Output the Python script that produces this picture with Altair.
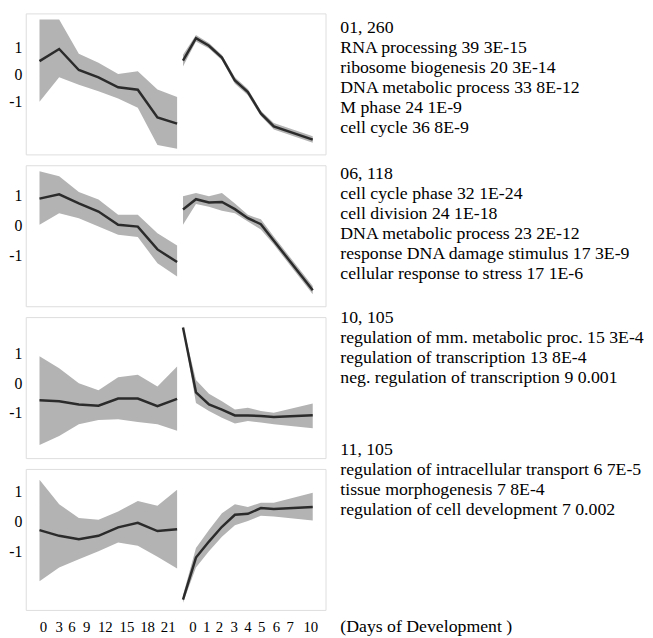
import altair as alt
import pandas as pd

# ---- data ----
left_days = [0, 3, 6, 9, 12, 15, 18, 21]
right_days = [0, 1, 2, 3, 4, 5, 6, 7, 10]

p1_left_mean = [0.50, 0.95, 0.17, -0.10, -0.47, -0.56, -1.59, -1.82]
p1_left_hi = [2.04, 2.04, 0.77, 0.44, 0.02, 0.12, -0.55, -0.83]
p1_left_lo = [-1.01, -0.10, -0.38, -0.62, -0.89, -1.23, -2.61, -2.75]
p1_right_mean = [0.52, 1.35, 1.07, 0.63, -0.22, -0.65, -1.44, -1.92, -2.41]
p1_right_hi = [0.74, 1.47, 1.17, 0.73, -0.10, -0.53, -1.34, -1.80, -2.29]
p1_right_lo = [0.30, 1.23, 0.97, 0.53, -0.34, -0.77, -1.54, -2.04, -2.53]

p2_left_mean = [0.91, 1.05, 0.75, 0.48, 0.04, -0.02, -0.78, -1.20]
p2_left_hi = [1.82, 1.65, 1.13, 0.88, 0.37, 0.37, -0.24, -0.65]
p2_left_lo = [0.04, 0.42, 0.26, -0.02, -0.29, -0.37, -1.24, -1.68]
p2_right_mean = [0.55, 0.89, 0.78, 0.80, 0.56, 0.26, 0.06, -0.49, -2.14]
p2_right_hi = [0.99, 1.10, 0.99, 1.10, 0.75, 0.37, 0.22, -0.35, -2.00]
p2_right_lo = [0.04, 0.73, 0.64, 0.51, 0.42, 0.15, -0.12, -0.62, -2.27]

p3_left_mean = [-0.58, -0.61, -0.72, -0.76, -0.52, -0.52, -0.78, -0.53]
p3_left_hi = [0.91, 0.50, 0.00, -0.24, 0.20, 0.28, -0.11, 0.56]
p3_left_lo = [-2.09, -1.78, -1.39, -1.24, -1.22, -1.31, -1.39, -1.61]
p3_right_mean = [1.88, -0.31, -0.72, -0.89, -1.09, -1.09, -1.11, -1.14, -1.08]
p3_right_hi = [1.92, 0.11, -0.36, -0.61, -0.89, -0.83, -0.94, -1.00, -0.69]
p3_right_lo = [1.84, -0.67, -0.94, -1.17, -1.36, -1.28, -1.33, -1.39, -1.52]

p4_left_mean = [-0.29, -0.48, -0.59, -0.48, -0.20, -0.05, -0.32, -0.26]
p4_left_hi = [1.38, 0.57, 0.11, 0.05, 0.33, 0.68, 0.52, 1.05]
p4_left_lo = [-1.99, -1.53, -1.26, -0.99, -0.70, -0.81, -1.17, -1.56]
p4_right_mean = [-2.60, -1.20, -0.67, -0.18, 0.22, 0.25, 0.44, 0.41, 0.48]
p4_right_hi = [-2.45, -0.88, -0.29, 0.27, 0.57, 0.48, 0.62, 0.62, 0.95]
p4_right_lo = [-2.70, -1.53, -0.99, -0.51, -0.13, 0.01, 0.19, 0.16, 0.03]

y_domains = [[-2.96, 2.27], [-2.67, 2.02], [-2.53, 2.23], [-2.94, 1.74]]
y_tick_values = [-1, 0, 1]

x_tick_labels = ["0", "3", "6", "9", "12", "15", "18", "21",
                 "0", "1", "2", "3", "4", "5", "6", "7", "10"]
x_tick_pos = [0.2, 1.0, 1.65, 2.4, 3.35, 4.45, 5.5, 6.55,
              7.8, 8.5, 9.15, 9.9, 10.6, 11.3, 12.05, 12.75, 13.8]

p1_text = ["01, 260", "RNA processing 39 3E-15", "ribosome biogenesis 20 3E-14",
           "DNA metabolic process 33 8E-12", "M phase 24 1E-9", "cell cycle 36 8E-9"]
p2_text = ["06, 118", "cell cycle phase 32 1E-24", "cell division 24 1E-18",
           "DNA metabolic process 23 2E-12", "response DNA damage stimulus 17 3E-9",
           "cellular response to stress 17 1E-6"]
p3_text = ["10, 105", "regulation of mm. metabolic proc. 15 3E-4",
           "regulation of transcription 13 8E-4", "neg. regulation of transcription 9 0.001"]
p4_text = ["11, 105", "regulation of intracellular transport 6 7E-5",
           "tissue morphogenesis 7 8E-4", "regulation of cell development 7 0.002"]
footer_text = "(Days of Development )"

panels = [
    (p1_left_mean, p1_left_hi, p1_left_lo, p1_right_mean, p1_right_hi, p1_right_lo),
    (p2_left_mean, p2_left_hi, p2_left_lo, p2_right_mean, p2_right_hi, p2_right_lo),
    (p3_left_mean, p3_left_hi, p3_left_lo, p3_right_mean, p3_right_hi, p3_right_lo),
    (p4_left_mean, p4_left_hi, p4_left_lo, p4_right_mean, p4_right_hi, p4_right_lo),
]
panel_texts = [p1_text, p2_text, p3_text, p4_text]

# ---- layout ----
W, H, SP, XLH = 304, 143, 11, 12
FONT = "Liberation Serif"
LINE = 20.3          # text line spacing (px)
TEXT_GAP = 15        # gap between frame and text column (px)
text_first_offset = [15, 9, 1, -19]   # first text line relative to panel top (px)
x_scale = alt.Scale(domain=[-0.7, 14.55], nice=False, zero=False)


def panel_frame(p):
    lm, lh, ll, rm, rh, rl = p
    rows = []
    for d, m, h, l in zip(left_days, lm, lh, ll):
        rows.append({"seg": "left", "pos": d / 3, "mean": m, "hi": h, "lo": l})
    for d, m, h, l in zip(right_days, rm, rh, rl):
        rows.append({"seg": "right", "pos": 7.3 + 0.66 * d, "mean": m, "hi": h, "lo": l})
    return pd.DataFrame(rows)


def make_panel(p, dom, lines, off):
    df = panel_frame(p)
    ys = alt.Scale(domain=dom, nice=False, zero=False)
    yaxis = alt.Axis(values=y_tick_values, grid=False, domain=False, ticks=False,
                     labelFont=FONT, labelFontSize=16, labelColor="black",
                     labelPadding=4, title=None, labelExpr="'' + datum.value")
    base = alt.Chart(df)
    x = alt.X("pos:Q", scale=x_scale, axis=None)
    area = base.mark_area(color="#b3b3b3", opacity=1).encode(
        x=x, y=alt.Y("lo:Q", scale=ys, axis=yaxis), y2="hi:Q", detail="seg:N")
    line = base.mark_line(color="#2b2b2b", strokeWidth=2.5).encode(
        x=x, y=alt.Y("mean:Q", scale=ys, axis=None), detail="seg:N")
    tdf = pd.DataFrame({"k": list(range(len(lines))), "txt": lines})
    tscale = alt.Scale(domain=[-off / LINE, (H - off) / LINE], reverse=True,
                       nice=False, zero=False)
    text = alt.Chart(tdf).mark_text(align="left", baseline="middle", font=FONT,
                                    fontSize=18, color="black").encode(
        x=alt.value(W + TEXT_GAP),
        y=alt.Y("k:Q", scale=tscale, axis=None),
        text="txt:N")
    return alt.layer(area, line, text).resolve_scale(y="independent").properties(
        width=W, height=H)


panel_charts = [make_panel(p, d, t, o) for p, d, t, o in
                zip(panels, y_domains, panel_texts, text_first_offset)]

xl_df = pd.DataFrame({"pos": x_tick_pos, "label": x_tick_labels})
xlab = alt.Chart(xl_df).mark_text(font=FONT, fontSize=15, color="black",
                                  baseline="middle").encode(
    x=alt.X("pos:Q", scale=x_scale, axis=None),
    y=alt.value(6),
    text="label:N",
)
foot = alt.Chart(pd.DataFrame({"txt": [footer_text]})).mark_text(
    align="left", baseline="middle", font=FONT, fontSize=18, color="black").encode(
    x=alt.value(W + TEXT_GAP), y=alt.value(6), text="txt:N")
xrow = alt.layer(xlab, foot).properties(width=W, height=XLH,
                                        view=alt.ViewBackground(strokeOpacity=0))

chart = alt.vconcat(*panel_charts, xrow, spacing=SP, bounds="flush").properties(
    padding=0
).configure_view(
    stroke="#4a4a4a", strokeWidth=1.3
).configure(background="white")

chart.save("out.html", embed_options={"renderer": "svg", "actions": False})
